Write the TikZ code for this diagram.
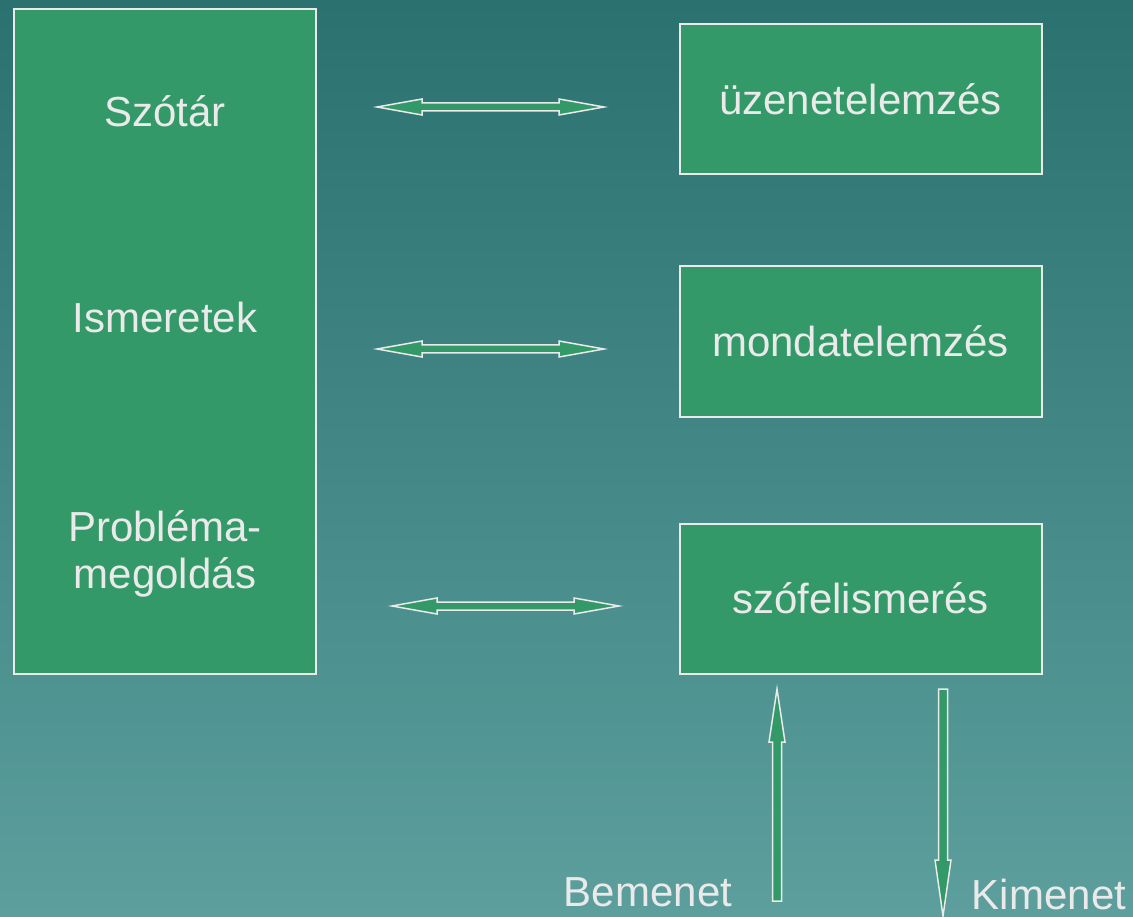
\documentclass[tikz,border=0pt]{standalone}
\usepackage{fontspec}
\setmainfont{Liberation Sans}
\definecolor{bgtop}{HTML}{2A7170}
\definecolor{bgbot}{HTML}{5C9F9D}
\definecolor{boxgreen}{HTML}{349968}
\definecolor{txt}{HTML}{EAEAEA}
\begin{document}
\begin{tikzpicture}[x=1pt,y=-1pt,
  box/.style={draw=txt,line width=2pt,fill=boxgreen,text=txt,inner sep=0pt,
    font=\fontsize{42}{48}\selectfont},
  lbl/.style={text=txt,inner sep=0pt,anchor=base,font=\fontsize{42}{48}\selectfont},
  blockarrow/.style={draw=txt,line width=1.5pt,fill=boxgreen,line join=miter}]
\shade[top color=bgtop,bottom color=bgbot] (0,0) rectangle (1133,917);
\useasboundingbox (0,0) rectangle (1133,917);
% left block
\node[box,minimum width=302,minimum height=664] (left) at (164.5,341.5) {};
\node[lbl] (szotar) at (165,127) {Szótár};
\node[lbl] (ismeretek) at (165,333) {Ismeretek};
\node[lbl] (probl) at (165,541) {Probléma-};
\node[lbl] (megold) at (165,588) {megoldás};
% right blocks
\node[box,minimum width=362,minimum height=150] (uzenet) at (860.5,99.5) {üzenetelemzés};
\node[box,minimum width=362,minimum height=150] (mondat) at (860.5,341.5) {mondatelemzés};
\node[box,minimum width=362,minimum height=150] (szofel) at (860.5,598.5) {szófelismerés};
% horizontal double arrows
\newcommand\dblarrow[2]{%
  \draw[blockarrow] (#1) -- ([shift={(45,-8)}]#1) -- ([shift={(45,-4)}]#1)
    -- ([shift={(-45,-4)}]#2) -- ([shift={(-45,-8)}]#2) -- (#2)
    -- ([shift={(-45,8)}]#2) -- ([shift={(-45,4)}]#2)
    -- ([shift={(45,4)}]#1) -- ([shift={(45,8)}]#1) -- cycle;}
\coordinate (a1) at (377,107); \coordinate (b1) at (604,107);
\coordinate (a2) at (377,349); \coordinate (b2) at (604,349);
\coordinate (a3) at (392,606); \coordinate (b3) at (619,606);
\dblarrow{a1}{b1}
\dblarrow{a2}{b2}
\dblarrow{a3}{b3}
% vertical arrows
\coordinate (inbot) at (777,901); \coordinate (intip) at (777,689);
\coordinate (outtop) at (943,689); \coordinate (outtip) at (943,916);
\draw[blockarrow] ([shift={(-4.5,0)}]inbot) -- ([shift={(-4.5,53)}]intip)
  -- ([shift={(-8,53)}]intip) -- (intip) -- ([shift={(8,53)}]intip)
  -- ([shift={(4.5,53)}]intip) -- ([shift={(4.5,0)}]inbot) -- cycle;
\draw[blockarrow] ([shift={(-4.5,0)}]outtop) -- ([shift={(-4.5,-56)}]outtip)
  -- ([shift={(-8,-56)}]outtip) -- (outtip) -- ([shift={(8,-56)}]outtip)
  -- ([shift={(4.5,-56)}]outtip) -- ([shift={(4.5,0)}]outtop) -- cycle;
\node[lbl] (bemenet) at (648,906) {Bemenet};
\node[lbl] (kimenet) at (1049,909) {Kimenet};
\end{tikzpicture}
\end{document}
